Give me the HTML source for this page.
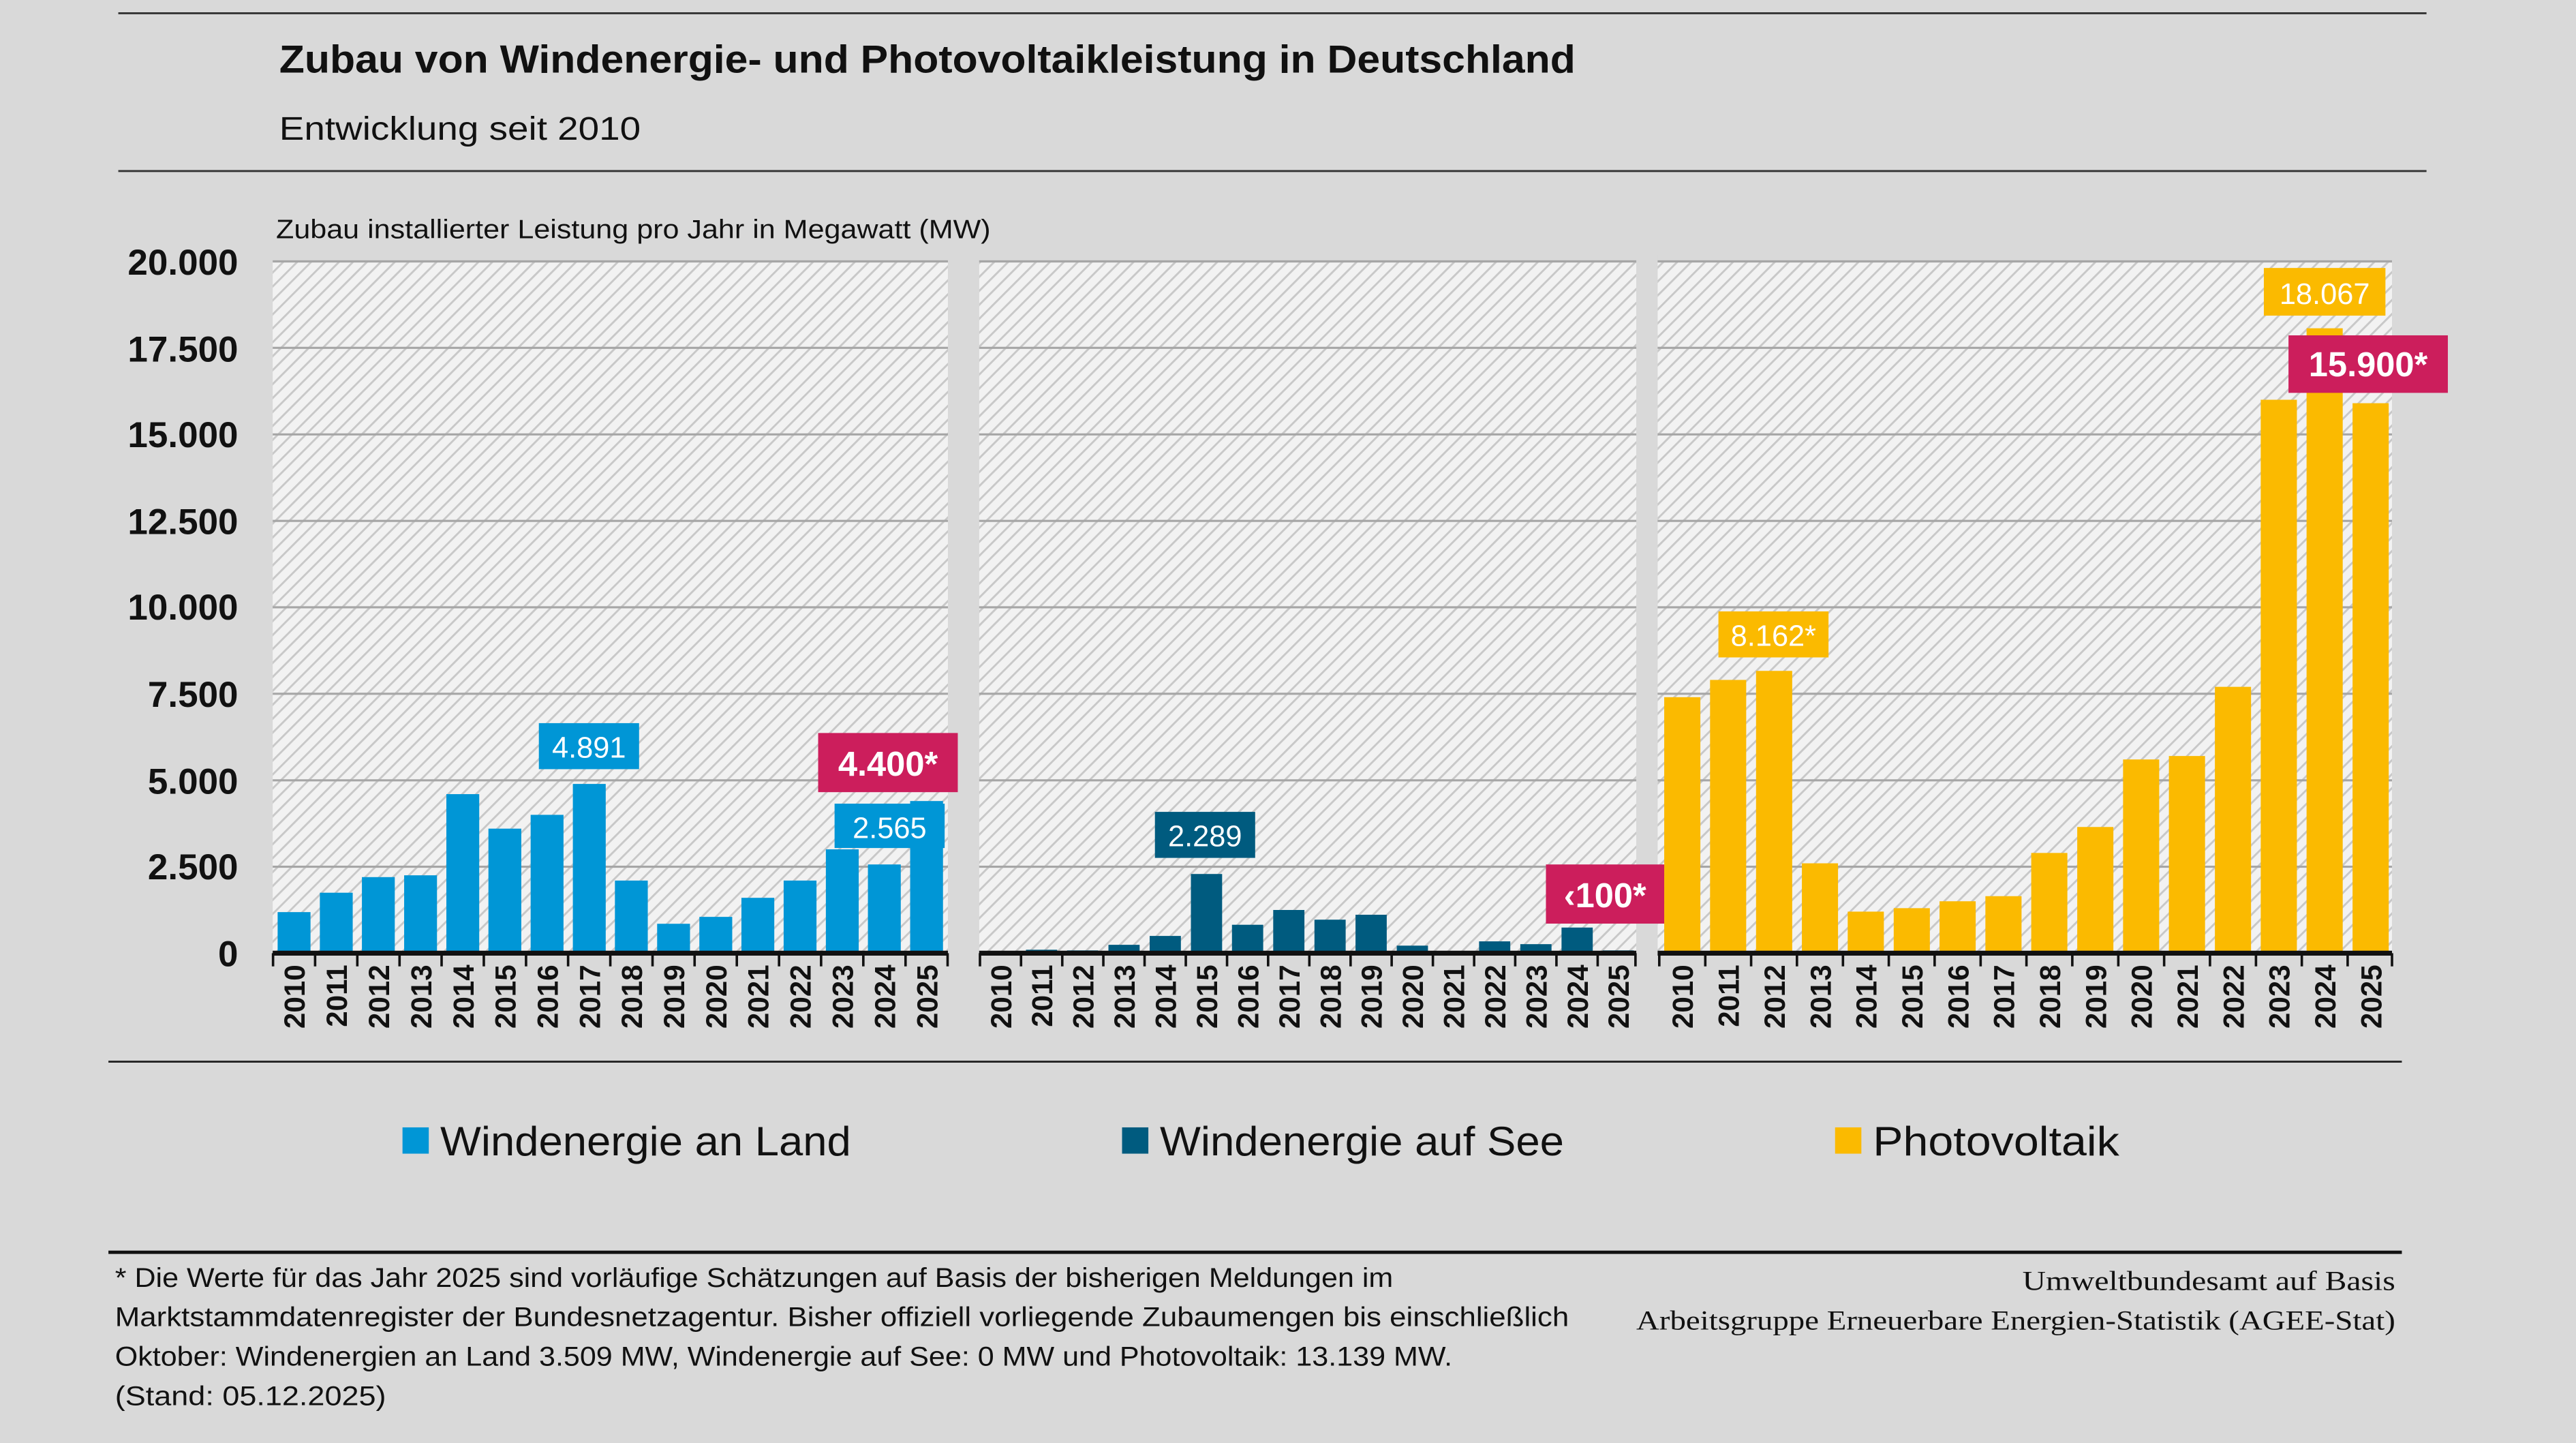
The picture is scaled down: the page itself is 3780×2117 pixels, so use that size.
<!DOCTYPE html>
<html><head><meta charset="utf-8"><style>
html,body{margin:0;padding:0;background:#d9d9d9;}
svg{display:block;}
text{font-family:"Liberation Sans",sans-serif;}
</style></head><body>
<svg width="3780" height="2117" viewBox="0 0 1568 878" xmlns="http://www.w3.org/2000/svg">
<defs>
<pattern id="h" width="6" height="6" patternUnits="userSpaceOnUse" patternTransform="rotate(45)">
<rect width="6" height="6" fill="#f2f2f2"/><rect width="1.2" height="6" fill="#c8c8c8"/>
</pattern>
</defs>
<rect width="1568" height="878" fill="#d9d9d9"/>
<line x1="72" y1="8" x2="1477" y2="8" stroke="#333" stroke-width="1.2"/>
<text x="170" y="44" font-size="24" font-weight="bold" fill="#111" textLength="789" lengthAdjust="spacingAndGlyphs">Zubau von Windenergie- und Photovoltaikleistung in Deutschland</text>
<text x="170" y="85" font-size="20" fill="#111" textLength="220" lengthAdjust="spacingAndGlyphs">Entwicklung seit 2010</text>
<line x1="72" y1="104" x2="1477" y2="104" stroke="#333" stroke-width="1.2"/>
<text x="168" y="145" font-size="16" fill="#111" textLength="435" lengthAdjust="spacingAndGlyphs">Zubau installierter Leistung pro Jahr in Megawatt (MW)</text>
<rect x="166" y="159" width="411" height="421" fill="url(#h)"/>
<rect x="596" y="159" width="400" height="421" fill="url(#h)"/>
<rect x="1009" y="159" width="447" height="421" fill="url(#h)"/>
<g stroke="#a6a6a6" stroke-width="1.3">
<line x1="166" y1="159" x2="1456" y2="159"/><line x1="166" y1="211.6" x2="1456" y2="211.6"/>
<line x1="166" y1="264.3" x2="1456" y2="264.3"/><line x1="166" y1="316.9" x2="1456" y2="316.9"/>
<line x1="166" y1="369.5" x2="1456" y2="369.5"/><line x1="166" y1="422.1" x2="1456" y2="422.1"/>
<line x1="166" y1="474.8" x2="1456" y2="474.8"/><line x1="166" y1="527.4" x2="1456" y2="527.4"/>
</g>
<rect x="577" y="155" width="19" height="430" fill="#d9d9d9"/>
<rect x="996" y="155" width="13" height="430" fill="#d9d9d9"/>
<g font-size="22" font-weight="bold" fill="#111" text-anchor="end">
<text x="145" y="167">20.000</text><text x="145" y="220">17.500</text><text x="145" y="272">15.000</text>
<text x="145" y="325">12.500</text><text x="145" y="377">10.000</text><text x="145" y="430">7.500</text>
<text x="145" y="483">5.000</text><text x="145" y="535">2.500</text><text x="145" y="588">0</text>
</g>
<g transform="translate(0,580) scale(1,-1)" fill="#0096d6">
<rect x="169" y="0" width="20" height="25"/><rect x="194.7" y="0" width="20" height="36.8"/>
<rect x="220.3" y="0" width="20" height="46.3"/><rect x="246" y="0" width="20" height="47.4"/>
<rect x="271.7" y="0" width="20" height="96.8"/><rect x="297.3" y="0" width="20" height="75.8"/>
<rect x="323" y="0" width="20" height="84.2"/><rect x="348.7" y="0" width="20" height="103"/>
<rect x="374.3" y="0" width="20" height="44.2"/><rect x="400" y="0" width="20" height="17.9"/>
<rect x="425.7" y="0" width="20" height="22.1"/><rect x="451.3" y="0" width="20" height="33.7"/>
<rect x="477" y="0" width="20" height="44.2"/><rect x="502.7" y="0" width="20" height="63.2"/>
<rect x="528.3" y="0" width="20" height="54"/><rect x="554" y="0" width="20" height="92.6"/>
</g>
<g transform="translate(0,580) scale(1,-1)" fill="#005b7f">
<rect x="599.5" y="0" width="19" height="0.8"/><rect x="624.5" y="0" width="19" height="2.1"/>
<rect x="649.5" y="0" width="19" height="1.7"/><rect x="674.7" y="0" width="19" height="5.1"/>
<rect x="699.8" y="0" width="19" height="10.5"/><rect x="724.9" y="0" width="19" height="48.2"/>
<rect x="749.9" y="0" width="19" height="17.3"/><rect x="775" y="0" width="19" height="26.3"/>
<rect x="800.1" y="0" width="19" height="20.4"/><rect x="825.1" y="0" width="19" height="23.4"/>
<rect x="850.2" y="0" width="19" height="4.6"/>
<rect x="900.3" y="0" width="19" height="7.2"/><rect x="925.4" y="0" width="19" height="5.5"/>
<rect x="950.5" y="0" width="19" height="15.6"/><rect x="975.5" y="0" width="19" height="1.7"/>
</g>
<g transform="translate(0,580) scale(1,-1)" fill="#fbba00">
<rect x="1013" y="0" width="22" height="155.8"/><rect x="1040.9" y="0" width="22" height="166.3"/>
<rect x="1068.9" y="0" width="22" height="171.8"/><rect x="1096.8" y="0" width="22" height="54.7"/>
<rect x="1124.7" y="0" width="22" height="25.3"/><rect x="1152.7" y="0" width="22" height="27.4"/>
<rect x="1180.6" y="0" width="22" height="31.6"/><rect x="1208.5" y="0" width="22" height="34.7"/>
<rect x="1236.4" y="0" width="22" height="61"/><rect x="1264.4" y="0" width="22" height="76.8"/>
<rect x="1292.3" y="0" width="22" height="117.9"/><rect x="1320.2" y="0" width="22" height="120"/>
<rect x="1348.2" y="0" width="22" height="162.1"/><rect x="1376.1" y="0" width="22" height="336.8"/>
<rect x="1404" y="0" width="22" height="380.3"/><rect x="1432" y="0" width="22" height="334.7"/>
</g>
<g stroke="#111">
<line x1="166" y1="580" x2="577" y2="580" stroke-width="3"/>
<line x1="596" y1="580" x2="996" y2="580" stroke-width="3"/>
<line x1="1009" y1="580" x2="1456" y2="580" stroke-width="3"/>
<path stroke-width="1.5" d="M166.2 580v8M191.8 580v8M217.5 580v8M243.2 580v8M268.8 580v8M294.5 580v8M320.2 580v8M345.8 580v8M371.5 580v8M397.2 580v8M422.8 580v8M448.5 580v8M474.2 580v8M499.8 580v8M525.5 580v8M551.2 580v8M576.8 580v8
M596.5 580v8M621.5 580v8M646.6 580v8M671.6 580v8M696.7 580v8M721.8 580v8M746.9 580v8M771.9 580v8M797 580v8M822.1 580v8M847.1 580v8M872.2 580v8M897.3 580v8M922.3 580v8M947.4 580v8M972.5 580v8M995.5 580v8
M1010 580v8M1038 580v8M1065.9 580v8M1093.8 580v8M1121.8 580v8M1149.7 580v8M1177.6 580v8M1205.6 580v8M1233.5 580v8M1261.4 580v8M1289.4 580v8M1317.3 580v8M1345.2 580v8M1373.2 580v8M1401.1 580v8M1429 580v8M1456 580v8"/>
</g>
<g font-size="17.5" font-weight="bold" fill="#111" text-anchor="end">
<text transform="translate(185.5,587) rotate(-90)">2010</text><text transform="translate(211.2,587) rotate(-90)">2011</text>
<text transform="translate(236.8,587) rotate(-90)">2012</text><text transform="translate(262.5,587) rotate(-90)">2013</text>
<text transform="translate(288.2,587) rotate(-90)">2014</text><text transform="translate(313.8,587) rotate(-90)">2015</text>
<text transform="translate(339.5,587) rotate(-90)">2016</text><text transform="translate(365.2,587) rotate(-90)">2017</text>
<text transform="translate(390.8,587) rotate(-90)">2018</text><text transform="translate(416.5,587) rotate(-90)">2019</text>
<text transform="translate(442.2,587) rotate(-90)">2020</text><text transform="translate(467.8,587) rotate(-90)">2021</text>
<text transform="translate(493.5,587) rotate(-90)">2022</text><text transform="translate(519.2,587) rotate(-90)">2023</text>
<text transform="translate(544.8,587) rotate(-90)">2024</text><text transform="translate(570.5,587) rotate(-90)">2025</text>
<text transform="translate(615.5,587) rotate(-90)">2010</text><text transform="translate(640.5,587) rotate(-90)">2011</text>
<text transform="translate(665.5,587) rotate(-90)">2012</text><text transform="translate(690.7,587) rotate(-90)">2013</text>
<text transform="translate(715.8,587) rotate(-90)">2014</text><text transform="translate(740.9,587) rotate(-90)">2015</text>
<text transform="translate(765.9,587) rotate(-90)">2016</text><text transform="translate(791,587) rotate(-90)">2017</text>
<text transform="translate(816.1,587) rotate(-90)">2018</text><text transform="translate(841.1,587) rotate(-90)">2019</text>
<text transform="translate(866.2,587) rotate(-90)">2020</text><text transform="translate(891.3,587) rotate(-90)">2021</text>
<text transform="translate(916.3,587) rotate(-90)">2022</text><text transform="translate(941.4,587) rotate(-90)">2023</text>
<text transform="translate(966.5,587) rotate(-90)">2024</text><text transform="translate(991.5,587) rotate(-90)">2025</text>
<text transform="translate(1030.5,587) rotate(-90)">2010</text><text transform="translate(1058.4,587) rotate(-90)">2011</text>
<text transform="translate(1086.4,587) rotate(-90)">2012</text><text transform="translate(1114.3,587) rotate(-90)">2013</text>
<text transform="translate(1142.2,587) rotate(-90)">2014</text><text transform="translate(1170.2,587) rotate(-90)">2015</text>
<text transform="translate(1198.1,587) rotate(-90)">2016</text><text transform="translate(1226,587) rotate(-90)">2017</text>
<text transform="translate(1253.9,587) rotate(-90)">2018</text><text transform="translate(1281.9,587) rotate(-90)">2019</text>
<text transform="translate(1309.8,587) rotate(-90)">2020</text><text transform="translate(1337.7,587) rotate(-90)">2021</text>
<text transform="translate(1365.7,587) rotate(-90)">2022</text><text transform="translate(1393.6,587) rotate(-90)">2023</text>
<text transform="translate(1421.5,587) rotate(-90)">2024</text><text transform="translate(1449.5,587) rotate(-90)">2025</text>
</g>
<rect x="328" y="440" width="61" height="28" fill="#0096d6"/>
<text x="358.5" y="461" font-size="18" fill="#fff" text-anchor="middle">4.891</text>
<rect x="508" y="489" width="67" height="27" fill="#0096d6"/>
<text x="541.5" y="510" font-size="18" fill="#fff" text-anchor="middle">2.565</text>
<rect x="498" y="446" width="85" height="36" fill="#cc1e5c"/>
<text x="540.5" y="472" font-size="21" font-weight="bold" fill="#fff" text-anchor="middle">4.400*</text>
<rect x="703" y="494" width="61" height="28" fill="#005b7f"/>
<text x="733.5" y="515" font-size="18" fill="#fff" text-anchor="middle">2.289</text>
<rect x="941" y="526" width="72" height="36" fill="#cc1e5c"/>
<text x="977" y="552" font-size="21" font-weight="bold" fill="#fff" text-anchor="middle">‹100*</text>
<rect x="1046" y="372" width="67" height="28" fill="#fbba00"/>
<text x="1079.5" y="393" font-size="18" fill="#fff" text-anchor="middle">8.162*</text>
<rect x="1378" y="163" width="74" height="29" fill="#fbba00"/>
<text x="1415" y="185" font-size="18" fill="#fff" text-anchor="middle">18.067</text>
<rect x="1393" y="204" width="97" height="35" fill="#cc1e5c"/>
<text x="1441.5" y="229" font-size="21" font-weight="bold" fill="#fff" text-anchor="middle">15.900*</text>
<line x1="66" y1="646" x2="1462" y2="646" stroke="#222" stroke-width="1.2"/>
<rect x="245" y="686" width="16" height="16" fill="#0096d6"/>
<text x="268" y="703" font-size="25" fill="#111" textLength="250" lengthAdjust="spacingAndGlyphs">Windenergie an Land</text>
<rect x="683" y="686" width="16" height="16" fill="#005b7f"/>
<text x="706" y="703" font-size="25" fill="#111" textLength="246" lengthAdjust="spacingAndGlyphs">Windenergie auf See</text>
<rect x="1117" y="686" width="16" height="16" fill="#fbba00"/>
<text x="1140" y="703" font-size="25" fill="#111" textLength="150" lengthAdjust="spacingAndGlyphs">Photovoltaik</text>
<line x1="66" y1="762" x2="1462" y2="762" stroke="#111" stroke-width="2"/>
<g font-size="16.5" fill="#111">
<text x="70" y="783" textLength="778" lengthAdjust="spacingAndGlyphs">* Die Werte für das Jahr 2025 sind vorläufige Schätzungen auf Basis der bisherigen Meldungen im</text>
<text x="70" y="807" textLength="885" lengthAdjust="spacingAndGlyphs">Marktstammdatenregister der Bundesnetzagentur. Bisher offiziell vorliegende Zubaumengen bis einschließlich</text>
<text x="70" y="831" textLength="814" lengthAdjust="spacingAndGlyphs">Oktober: Windenergien an Land 3.509 MW, Windenergie auf See: 0 MW und Photovoltaik: 13.139 MW.</text>
<text x="70" y="855" textLength="165" lengthAdjust="spacingAndGlyphs">(Stand: 05.12.2025)</text>
</g>
<g font-size="16.5" fill="#111">
<text x="1231" y="785" style="font-family:'Liberation Serif',serif" textLength="227" lengthAdjust="spacingAndGlyphs">Umweltbundesamt auf Basis</text>
<text x="996" y="809" style="font-family:'Liberation Serif',serif" textLength="462" lengthAdjust="spacingAndGlyphs">Arbeitsgruppe Erneuerbare Energien-Statistik (AGEE-Stat)</text>
</g>
</svg>
</body></html>
